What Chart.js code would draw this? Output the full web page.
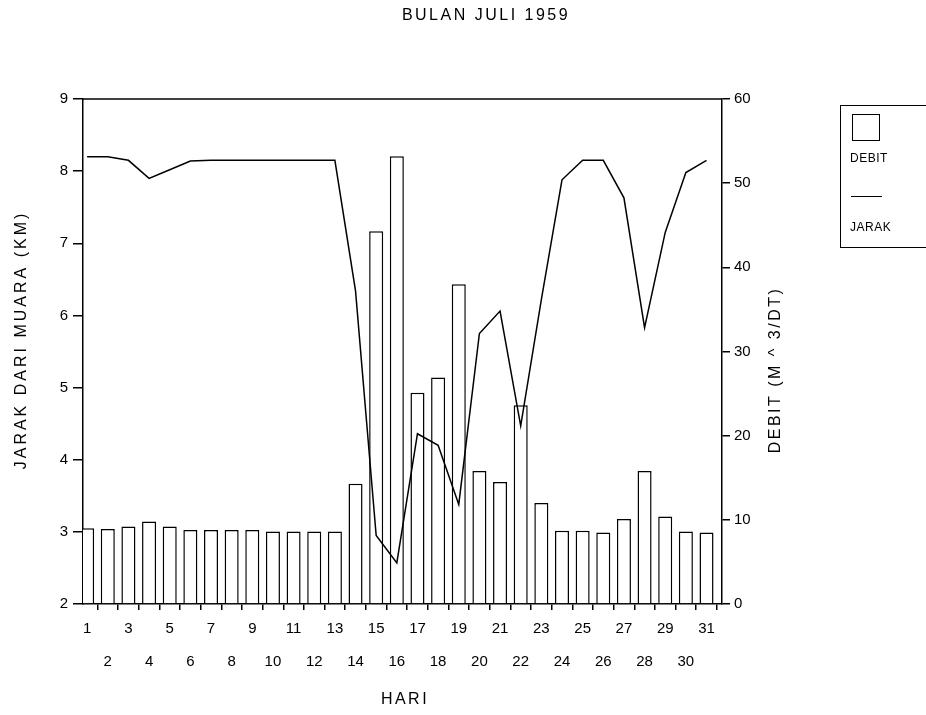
<!DOCTYPE html>
<html>
<head>
<meta charset="utf-8">
<script src="https://cdn.jsdelivr.net/npm/chart.js@4.4.1/dist/chart.umd.min.js"></script>
<style>
  html, body { margin: 0; padding: 0; background: #fff; overflow: hidden; }
  #wrap { position: relative; width: 926px; height: 715px; }
  #legend { position: absolute; left: 840px; top: 105px; width: 110px; height: 141px; border: 1.5px solid #000; font-family: 'Liberation Sans', sans-serif; font-size: 12px; letter-spacing: 0.5px; color: #000; }
  #legend .box { position: absolute; left: 11px; top: 8px; width: 26px; height: 25px; border: 1.5px solid #000; }
  #legend .line { position: absolute; left: 10px; top: 90px; width: 31px; border-top: 1.5px solid #000; }
  #legend .lbl { position: absolute; left: 9px; }
</style>
</head>
<body>
<div id="wrap">
  <canvas id="chart"></canvas>
  <div id="legend">
    <div class="box"></div>
    <div class="lbl" style="top:45px">DEBIT</div>
    <div class="line"></div>
    <div class="lbl" style="top:114px">JARAK</div>
  </div>
</div>
<script>
// hari (day of month)
const days = [1, 2, 3, 4, 5, 6, 7, 8, 9, 10, 11, 12, 13, 14, 15, 16, 17, 18, 19, 20, 21, 22, 23, 24, 25, 26, 27, 28, 29, 30, 31];
// debit, m^3/dt (bars, right axis)
const debit = [9.0, 8.9, 9.2, 9.8, 9.2, 8.8, 8.8, 8.8, 8.8, 8.6, 8.6, 8.6, 8.6, 14.3, 44.3, 53.2, 25.1, 26.9, 38.0, 15.8, 14.5, 23.6, 12.0, 8.7, 8.7, 8.5, 10.1, 15.8, 10.4, 8.6, 8.5];
// jarak dari muara, km (line, left axis)
const jarak = [8.2, 8.2, 8.15, 7.9, 8.02, 8.14, 8.15, 8.15, 8.15, 8.15, 8.15, 8.15, 8.15, 6.34, 2.95, 2.57, 4.36, 4.2, 3.38, 5.75, 6.06, 4.47, 6.22, 7.88, 8.15, 8.15, 7.63, 5.83, 7.15, 7.98, 8.15];
const jarakTicks = [2, 3, 4, 5, 6, 7, 8, 9];
const debitTicks = [0, 10, 20, 30, 40, 50, 60];

const FONT = "'Liberation Sans', Arial, sans-serif";
const tickFont = { family: FONT, size: 15 };

const titles = {
  id: 'titles',
  afterDraw(chart) {
    const { ctx, chartArea } = chart;
    ctx.save();
    ctx.strokeStyle = '#000';
    ctx.lineWidth = 1.5;
    ctx.beginPath();
    ctx.moveTo(chartArea.left, chartArea.top);
    ctx.lineTo(chartArea.right, chartArea.top);
    ctx.stroke();

    ctx.fillStyle = '#000';
    ctx.textAlign = 'center';
    ctx.textBaseline = 'middle';
    ctx.letterSpacing = '2.5px';
    ctx.font = `16px ${FONT}`;
    ctx.fillText('BULAN JULI 1959', 486, 16);
    ctx.fillText('HARI', 405, 700);

    ctx.letterSpacing = '3px';
    ctx.translate(22, 340);
    ctx.rotate(-Math.PI / 2);
    ctx.fillText('JARAK DARI MUARA (KM)', 0, 0);
    ctx.setTransform(1, 0, 0, 1, 0, 0);
    ctx.letterSpacing = '2.5px';
    ctx.translate(776, 370);
    ctx.rotate(-Math.PI / 2);
    ctx.fillText('DEBIT (M ^ 3/DT)', 0, 0);
    ctx.restore();
  }
};

new Chart(document.getElementById('chart'), {
  type: 'bar',
  data: {
    datasets: [
      {
        type: 'line',
        label: 'JARAK',
        data: days.map((d, i) => ({ x: d, y: jarak[i] })),
        yAxisID: 'y',
        borderColor: '#000',
        borderWidth: 1.5,
        pointRadius: 0,
        tension: 0,
        order: 0
      },
      {
        label: 'DEBIT',
        data: days.map((d, i) => ({ x: d, y: debit[i] })),
        yAxisID: 'y1',
        backgroundColor: '#fff',
        borderColor: '#000',
        borderWidth: 1.5,
        categoryPercentage: 1,
        barPercentage: 0.68,
        order: 1
      }
    ]
  },
  options: {
    responsive: true,
    maintainAspectRatio: false,
    animation: false,
    layout: { padding: { top: 99, left: 0, right: 0, bottom: 0 } },
    plugins: { legend: { display: false }, tooltip: { enabled: false } },
    scales: {
      x: {
        type: 'linear',
        position: 'bottom',
        min: 0.8,
        max: 31.75,
        offset: false,
        afterBuildTicks: (s) => { s.ticks = days.map((d) => ({ value: d })); },
        afterFit: (s) => { s.height = 111; },
        grid: { drawOnChartArea: false, drawTicks: true, tickLength: 6, color: '#000', lineWidth: 1.5 },
        border: { color: '#000', width: 1.5 },
        ticks: {
          color: '#000',
          font: { ...tickFont, lineHeight: 2.2 },
          padding: 2,
          autoSkip: false,
          maxRotation: 0,
          minRotation: 0,
          callback: (v) => (v % 2 ? [String(v), ''] : ['', String(v)])
        }
      },
      y: {
        position: 'left',
        min: 2,
        max: 9,
        afterBuildTicks: (s) => { s.ticks = jarakTicks.map((v) => ({ value: v })); },
        afterFit: (s) => { s.width = 83; },
        grid: { drawOnChartArea: false, drawTicks: true, tickLength: 10, color: '#000', lineWidth: 1.5 },
        border: { color: '#000', width: 1.5 },
        ticks: { color: '#000', font: tickFont, padding: 5 }
      },
      y1: {
        position: 'right',
        min: 0,
        max: 60,
        afterBuildTicks: (s) => { s.ticks = debitTicks.map((v) => ({ value: v })); },
        afterFit: (s) => { s.width = 204; },
        grid: { drawOnChartArea: false, drawTicks: true, tickLength: 8, color: '#000', lineWidth: 1.5 },
        border: { color: '#000', width: 1.5 },
        ticks: { color: '#000', font: tickFont, padding: 4 }
      }
    }
  },
  plugins: [titles]
});
</script>
</body>
</html>
